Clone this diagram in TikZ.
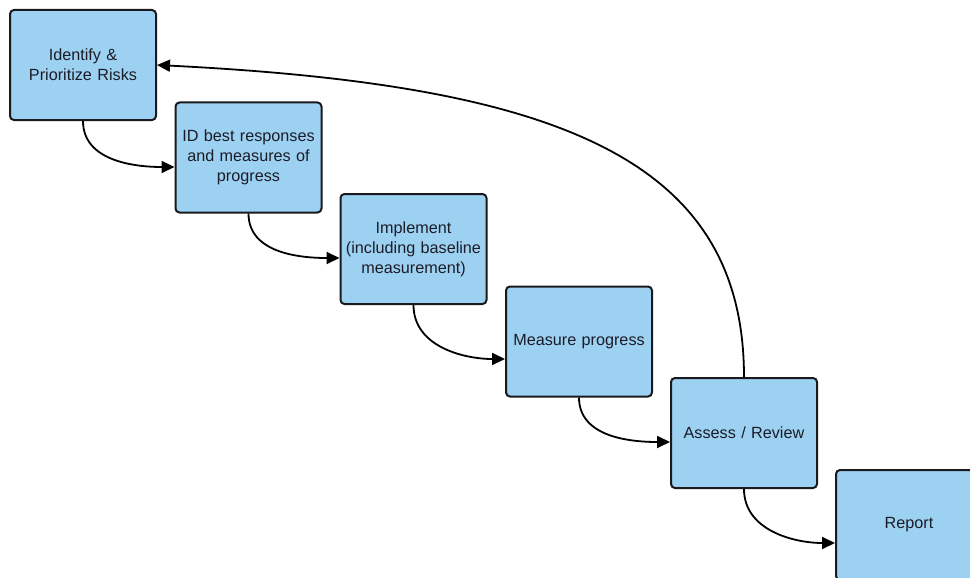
\documentclass[tikz,border=0pt]{standalone}
\usepackage{fontspec}
\setmainfont{Liberation Sans}
\usetikzlibrary{arrows.meta}
\definecolor{boxfill}{RGB}{157,209,241}
\definecolor{boxline}{RGB}{26,26,30}
\definecolor{boxtext}{RGB}{28,28,40}
\tikzset{
  stepbox/.style={draw=boxline, fill=boxfill, line width=2pt, rounded corners=4pt,
    minimum width=146pt, minimum height=110pt, inner sep=0pt,
    text width=140pt, align=center, text=boxtext,
    font=\fontsize{16.2}{20}\selectfont},
  flow/.style={draw=black, line width=1.8pt, -{Triangle[length=13pt,width=12pt]}},
}
\begin{document}
\begin{tikzpicture}[x=1pt,y=-1pt]
\path[use as bounding box] (0,0) rectangle (970,578);
\clip (0,0) rectangle (970,578);
\fill[white] (0,0) rectangle (970,578);

% process steps
\node[stepbox] (b1) at (83,65)    {Identify \&\\Prioritize Risks};
\node[stepbox] (b2) at (248.5,157.5) {ID best responses\\and measures of\\progress};
\node[stepbox] (b3) at (413.5,249)  {Implement\\(including baseline\\measurement)};
\node[stepbox] (b4) at (579,341.5)  {Measure progress};
\node[stepbox] (b5) at (744,433)    {Assess / Review};
\node[stepbox] (b6) at (909,525)    {Report};

% step-to-step connectors
\draw[flow] (b1.south) to[out=-90,in=180] ([yshift=-9.5pt]b2.west);
\draw[flow] (b2.south) to[out=-90,in=180] ([yshift=-9pt]b3.west);
\draw[flow] (b3.south) to[out=-90,in=180] ([yshift=-17.5pt]b4.west);
\draw[flow] (b4.south) to[out=-90,in=180] ([yshift=-9pt]b5.west);
\draw[flow] (b5.south) to[out=-90,in=180] ([yshift=-18pt]b6.west);

% feedback loop back to the start
\draw[flow] (b5.north) .. controls (744,158) and (557,85) .. (b1.east);
\end{tikzpicture}
\end{document}
